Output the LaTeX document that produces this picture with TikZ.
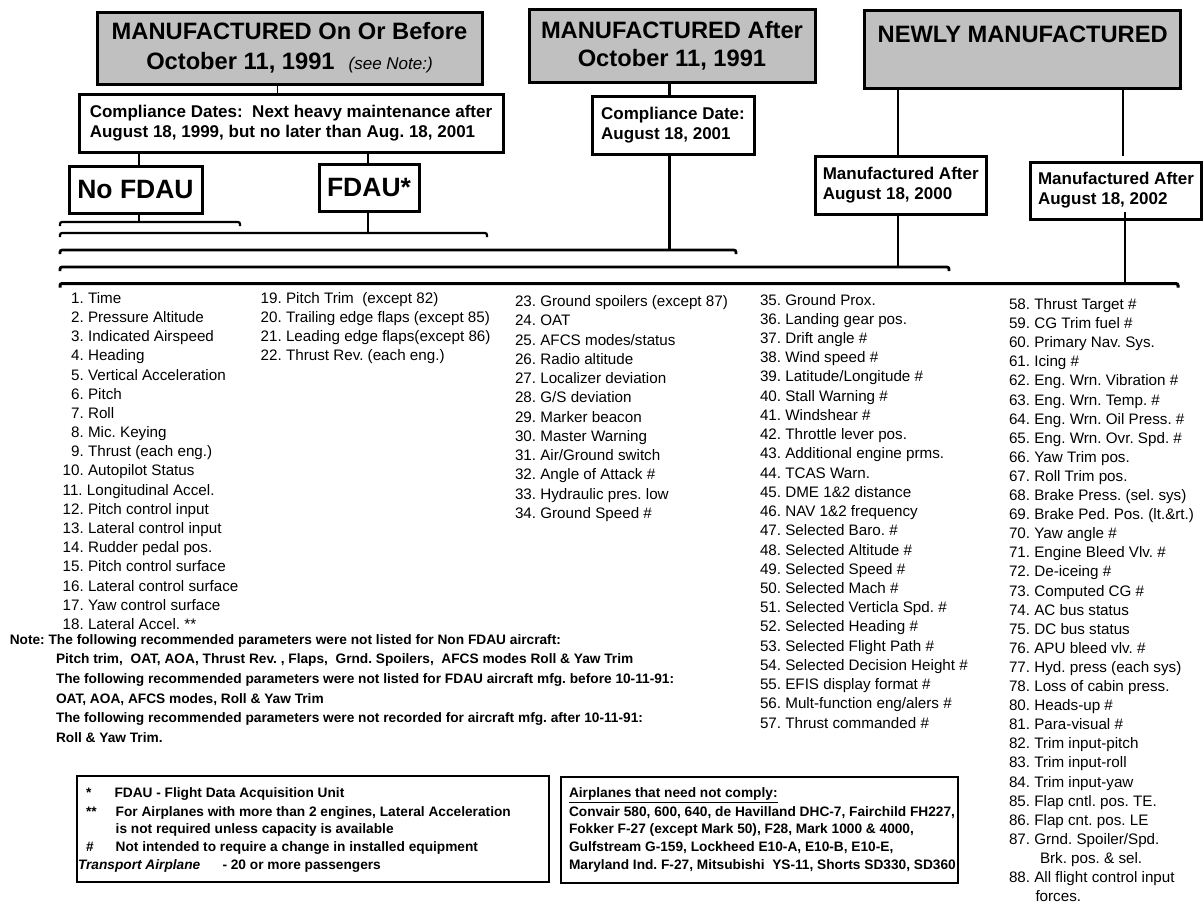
\documentclass[tikz,border=0pt]{standalone}
\usepackage{fontspec}
\setmainfont{Liberation Sans}
\definecolor{boxgray}{RGB}{192,192,192}
\begin{document}
\frenchspacing
\begin{tikzpicture}[x=1pt,y=-1pt,
  every node/.style={inner sep=0pt, outer sep=0pt},
  titlebox/.style={draw, line width=3pt, fill=boxgray, align=center,
    font=\fontsize{23.7}{30}\selectfont\bfseries},
  datebox/.style={draw, line width=3pt, fill=white, align=left,
    font=\fontsize{17}{20.5}\selectfont\bfseries},
  fdaubox/.style={draw, line width=3pt, fill=white,
    font=\fontsize{26.5}{30}\selectfont\bfseries},
  link/.style={line width=2.6pt},
  thinlink/.style={line width=1pt},
  rail/.style={rounded corners=2pt},
  item/.style={anchor=base west, font=\fontsize{15.2}{18}\selectfont},
  note/.style={anchor=base west, font=\fontsize{13.7}{16}\selectfont\bfseries},
  legendbox/.style={draw, line width=1.2pt},
]
\fill[white] (0,0) rectangle (1203,906);
\useasboundingbox (0,0) rectangle (1203,906);

% ---- category headers ----
\node[titlebox, minimum width=385pt, minimum height=72pt] (before) at (289.5,48)
  {MANUFACTURED On Or Before\\October 11, 1991\hspace{14pt}{\fontsize{17}{20}\selectfont\mdseries\itshape(see Note:)}};
\node[titlebox, minimum width=286pt, minimum height=73pt] (after) at (672,45.5)
  {MANUFACTURED After\\[-2pt]October 11, 1991};
\node[titlebox, minimum width=316pt, minimum height=78pt] (newly) at (1022.7,49)
  {NEWLY MANUFACTURED\\\mbox{}};

% ---- compliance boxes ----
\node[datebox, minimum width=424pt, minimum height=58pt] (dates) at (291,123)
  {Compliance Dates:\ \ Next heavy maintenance after\\August 18, 1999, but no later than Aug. 18, 2001};
\node[datebox, minimum width=162pt, minimum height=58pt] (cdate) at (673,125)
  {Compliance Date:\\[-0.5pt]August 18, 2001};
\node[datebox, minimum width=171.5pt, minimum height=58pt] (mfg2000) at (900.75,185)
  {Manufactured After\\[-0.5pt]August 18, 2000};
\node[datebox, minimum width=171pt, minimum height=57pt] (mfg2002) at (1116,190.5)
  {Manufactured After\\[-0.5pt]August 18, 2002};

\node[fdaubox, minimum width=133pt, minimum height=47pt] (nofdau) at (135.5,189.5) {No FDAU};
\node[fdaubox, minimum width=100pt, minimum height=47pt] (fdau) at (369,187.5) {FDAU*};

% ---- connector columns ----
\coordinate (k1) at (277,0);
\coordinate (k2) at (139,0);
\coordinate (k3) at (368,0);
\coordinate (k4) at (669.5,0);
\coordinate (k5) at (898,0);
\coordinate (k6) at (1123,156);
\coordinate (k7) at (1125,0);

% ---- rails ----
\coordinate (r1a) at (60,222);   \coordinate (r1b) at (240,222);
\coordinate (r2a) at (60,233);   \coordinate (r2b) at (487,233);
\coordinate (r3a) at (60,250);   \coordinate (r3b) at (736,250);
\coordinate (r4a) at (60,267);   \coordinate (r4b) at (949,267);
\coordinate (r5a) at (60,283.5); \coordinate (r5b) at (1178,283.5);

\draw[rail, line width=2.2pt] ([yshift=-4pt]r1a) -- (r1a) -- (r1b) -- ([yshift=-4pt]r1b);
\draw[rail, line width=2.2pt] ([yshift=-4pt]r2a) -- (r2a) -- (r2b) -- ([yshift=-4pt]r2b);
\draw[rail, line width=2.7pt] ([yshift=-4pt]r3a) -- (r3a) -- (r3b) -- ([yshift=-4pt]r3b);
\draw[rail, line width=2.8pt] ([yshift=-4pt]r4a) -- (r4a) -- (r4b) -- ([yshift=-4pt]r4b);
\draw[rail, line width=3pt] ([yshift=-4pt]r5a) -- (r5a) -- (r5b) -- ([yshift=-4pt]r5b);

\draw[thinlink] (before.south -| k1) -- (dates.north -| k1);
\draw[link] (dates.south -| k2) -- (nofdau.north -| k2);
\draw[link] (dates.south -| k3) -- (fdau.north -| k3);
\draw[link] (nofdau.south -| k2) -- (r1a -| k2);
\draw[link] (fdau.south -| k3) -- (r2a -| k3);
\draw[link] (after.south -| k4) -- (cdate.north -| k4);
\draw[link] (cdate.south -| k4) -- (r3a -| k4);
\draw[link] (newly.south -| k5) -- (mfg2000.north -| k5);
\draw[link] (newly.south -| k6) -- (k6);
\draw[link] (mfg2000.south -| k5) -- (r4a -| k5);
\draw[link] ([yshift=7pt]mfg2002.south -| k7) -- (r5a -| k7);

% ---- parameter lists ----
\foreach \t [count=\i from 0] in {
  {\phantom{0}1. Time}, {\phantom{0}2. Pressure Altitude}, {\phantom{0}3. Indicated Airspeed},
  {\phantom{0}4. Heading}, {\phantom{0}5. Vertical Acceleration}, {\phantom{0}6. Pitch},
  {\phantom{0}7. Roll}, {\phantom{0}8. Mic. Keying}, {\phantom{0}9. Thrust (each eng.)},
  {10. Autopilot Status}, {11. Longitudinal Accel.}, {12. Pitch control input},
  {13. Lateral control input}, {14. Rudder pedal pos.}, {15. Pitch control surface},
  {16. Lateral control surface}, {17. Yaw control surface}, {18. Lateral Accel. **}}
  \node[item] (pa\i) at (62.7, 303.3+19.18*\i) {\t};

\foreach \t [count=\i from 0] in {
  {19. Pitch Trim\ \ (except 82)}, {20. Trailing edge flaps (except 85)},
  {21. Leading edge flaps(except 86)}, {22. Thrust Rev. (each eng.)}}
  \node[item] (pb\i) at (260.7, 303.3+19.18*\i) {\t};

\foreach \t [count=\i from 0] in {
  {23. Ground spoilers (except 87)}, {24. OAT}, {25. AFCS modes/status},
  {26. Radio altitude}, {27. Localizer deviation}, {28. G/S deviation},
  {29. Marker beacon}, {30. Master Warning}, {31. Air/Ground switch},
  {32. Angle of Attack \#}, {33. Hydraulic pres. low}, {34. Ground Speed \#}}
  \node[item] (pc\i) at (515, 306.7+19.24*\i) {\t};

\foreach \t [count=\i from 0] in {
  {35. Ground Prox.}, {36. Landing gear pos.}, {37. Drift angle \#},
  {38. Wind speed \#}, {39. Latitude/Longitude \#}, {40. Stall Warning \#},
  {41. Windshear \#}, {42. Throttle lever pos.}, {43. Additional engine prms.},
  {44. TCAS Warn.}, {45. DME 1\&2 distance}, {46. NAV 1\&2 frequency},
  {47. Selected Baro. \#}, {48. Selected Altitude \#}, {49. Selected Speed \#},
  {50. Selected Mach \#}, {51. Selected Verticla Spd. \#}, {52. Selected Heading \#},
  {53. Selected Flight Path \#}, {54. Selected Decision Height \#},
  {55. EFIS display format \#}, {56. Mult-function eng/alers \#},
  {57. Thrust commanded \#}}
  \node[item] (pd\i) at (760, 305+19.23*\i) {\t};

\foreach \t [count=\i from 0] in {
  {58. Thrust Target \#}, {59. CG Trim fuel \#}, {60. Primary Nav. Sys.},
  {61. Icing \#}, {62. Eng. Wrn. Vibration \#}, {63. Eng. Wrn. Temp. \#},
  {64. Eng. Wrn. Oil Press. \#}, {65. Eng. Wrn. Ovr. Spd. \#}, {66. Yaw Trim pos.},
  {67. Roll Trim pos.}, {68. Brake Press. (sel. sys)}, {69. Brake Ped. Pos. (lt.\&rt.)},
  {70. Yaw angle \#}, {71. Engine Bleed Vlv. \#}, {72. De-iceing \#},
  {73. Computed CG \#}, {74. AC bus status}, {75. DC bus status},
  {76. APU bleed vlv. \#}, {77. Hyd. press (each sys)}, {78. Loss of cabin press.},
  {80. Heads-up \#}, {81. Para-visual \#}, {82. Trim input-pitch},
  {83. Trim input-roll}, {84. Trim input-yaw}, {85. Flap cntl. pos. TE.},
  {86. Flap cnt. pos. LE}, {87. Grnd. Spoiler/Spd.}, {\hspace*{31pt}Brk. pos. \& sel.},
  {88. All flight control input}, {\hspace*{26.5pt}forces.}}
  \node[item] (pe\i) at (1009, 309.5+19.1*\i) {\t};

% ---- note ----
\node[note] (n1) at (9.8,644.5) {Note: The following recommended parameters were not listed for Non FDAU aircraft:};
\node[note] (n2) at (56,663.8) {Pitch trim,\ \ OAT, AOA, Thrust Rev. , Flaps,\ \ Grnd. Spoilers,\ \ AFCS modes Roll \& Yaw Trim};
\node[note] (n3) at (56,683.4) {The following recommended parameters were not listed for FDAU aircraft mfg. before 10-11-91:};
\node[note] (n4) at (56,703) {OAT, AOA, AFCS modes, Roll \& Yaw Trim};
\node[note] (n5) at (56,722.6) {The following recommended parameters were not recorded for aircraft mfg. after 10-11-91:};
\node[note] (n6) at (56,742.2) {Roll \& Yaw Trim.};

% ---- legend boxes ----
\node[legendbox, minimum width=472pt, minimum height=106pt] (legend) at (313,829) {};
\node[note] (g1) at (86,797.5) {*};
\node[note] (g1t) at (114.5,797.5) {FDAU - Flight Data Acquisition Unit};
\node[note] (g2) at (86,816) {**};
\node[note] (g2t) at (115.7,816) {For Airplanes with more than 2 engines, Lateral Acceleration};
\node[note] (g3t) at (115.7,833.8) {is not required unless capacity is available};
\node[note] (g4) at (86,851.6) {\#};
\node[note] (g4t) at (115.7,851.6) {Not intended to require a change in installed equipment};
\node[note] (g5) at (78,869.4) {\itshape Transport Airplane};
\node[note] (g5t) at (222.5,869.4) {- 20 or more passengers};

\node[legendbox, minimum width=397pt, minimum height=106pt] (exempt) at (759.5,830) {};
\node[note] (e1) at (569,797.5) {\underline{Airplanes that need not comply:}};
\node[note] (e2) at (569,816) {Convair 580, 600, 640, de Havilland DHC-7, Fairchild FH227,};
\node[note] (e3) at (569,833.8) {Fokker F-27 (except Mark 50), F28, Mark 1000 \& 4000,};
\node[note] (e4) at (569,851.6) {Gulfstream G-159, Lockheed E10-A, E10-B, E10-E,};
\node[note] (e5) at (569,869.4) {Maryland Ind. F-27, Mitsubishi\ \ YS-11, Shorts SD330, SD360};
\end{tikzpicture}
\end{document}
